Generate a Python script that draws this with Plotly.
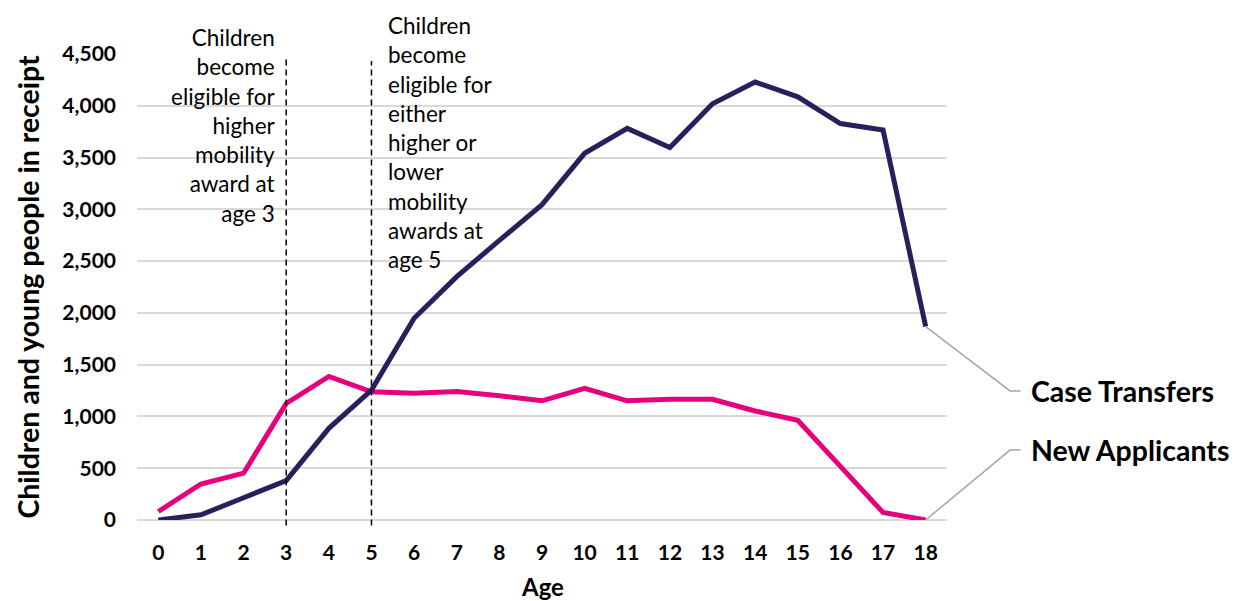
import plotly.graph_objects as go

ages = list(range(19))
age_labels = [str(a) for a in ages]
case_transfers = [0, 50, 215, 380, 885, 1255, 1948, 2350, 2700, 3045, 3541, 3782,
                  3598, 4020, 4229, 4087, 3828, 3766, 1868]
new_applicants = [82, 348, 452, 1125, 1386, 1238, 1225, 1240, 1199, 1151, 1272, 1151,
                  1165, 1166, 1053, 963, 518, 72, 0]
event_ages = [3, 5]
event_notes = [
    "Children<br>become<br>eligible for<br>higher<br>mobility<br>award at<br>age 3",
    "Children<br>become<br>eligible for<br>either<br>higher or<br>lower<br>mobility<br>awards at<br>age 5",
]
y_ticks = [0, 500, 1000, 1500, 2000, 2500, 3000, 3500, 4000, 4500]

NAVY = "#2A1E5C"
PINK = "#E6007E"
FONT = "Lato"
X_MIN, X_MAX = -0.5, 18.5
Y_MIN, Y_MAX = 0, 4500


def xp(x):
    return (x - X_MIN) / (X_MAX - X_MIN)


def yp(y):
    return (y - Y_MIN) / (Y_MAX - Y_MIN)


fig = go.Figure()
fig.add_trace(go.Scatter(x=ages, y=new_applicants, mode="lines", name="New Applicants",
                         line=dict(color=PINK, width=5), cliponaxis=False))
fig.add_trace(go.Scatter(x=ages, y=case_transfers, mode="lines", name="Case Transfers",
                         line=dict(color=NAVY, width=5), cliponaxis=False))

shapes = []
for a, top in zip(event_ages, [0.994, 0.985]):
    shapes.append(dict(type="line", xref="x", yref="paper", x0=a, x1=a, y0=-0.012, y1=top,
                       line=dict(color="black", width=1.5, dash="6px,4px")))

annotations = []
annotations.append(dict(x=event_ages[0], xref="x", xshift=-8, xanchor="right", align="right",
                        y=0.8476, yref="paper", yanchor="middle", text=event_notes[0],
                        showarrow=False, font=dict(family=FONT, size=22.5, color="black")))
annotations.append(dict(x=event_ages[1], xref="x", xshift=15, xanchor="left", align="left",
                        y=0.810, yref="paper", yanchor="middle", text=event_notes[1],
                        showarrow=False, font=dict(family=FONT, size=22.5, color="black")))

# x-axis title (placed as annotation so it can sit low, as in the reference)
annotations.append(dict(x=0.5, y=-0.142, xref="paper", yref="paper", xanchor="center",
                        yanchor="middle", text="<b>Age</b>", showarrow=False,
                        font=dict(family=FONT, size=24, color="black")))

# leader lines + end labels
labels = [("Case Transfers", case_transfers[-1], 0.277),
          ("New Applicants", new_applicants[-1], 0.150)]
for text, val, ylab in labels:
    x0, y0 = xp(ages[-1]), yp(val)
    xb = 1.0778
    xe = 1.091
    shapes.append(dict(type="path", xref="paper", yref="paper",
                       path=f"M {x0} {y0} L {xb} {ylab} L {xe} {ylab}",
                       line=dict(color="#A6A6A6", width=1.5)))
    annotations.append(dict(x=1.101, y=ylab, xref="paper", yref="paper", xanchor="left",
                            yanchor="middle", text=f"<b>{text}</b>", showarrow=False,
                            font=dict(family=FONT, size=28.5, color="black")))

fig.update_layout(
    width=1225, height=593,
    margin=dict(l=129, r=286, t=46, b=81),
    plot_bgcolor="white", paper_bgcolor="white",
    showlegend=False,
    font=dict(family=FONT, color="black"),
    shapes=shapes, annotations=annotations,
    xaxis=dict(range=[X_MIN, X_MAX], tickmode="array", tickvals=ages, ticktext=age_labels,
               showgrid=False, zeroline=False, showline=False, ticks="", automargin=False,
               ticklabelstandoff=18,
               tickfont=dict(family=FONT, size=21, color="black", weight="bold")),
    yaxis=dict(range=[Y_MIN, Y_MAX], tickmode="array", tickvals=y_ticks,
               ticktext=[f"{v:,}" for v in y_ticks],
               showgrid=True, gridcolor="#D9D9D9", gridwidth=2,
               zeroline=True, zerolinecolor="#D9D9D9", zerolinewidth=2,
               showline=False, ticks="", ticklabelstandoff=20, automargin=False,
               tickfont=dict(family=FONT, size=21, color="black", weight="bold"),
               title=dict(text="<b>Children and young people in receipt</b>",
                          font=dict(family=FONT, size=28.5, color="black"), standoff=14)),
)

fig.write_html("out.html")
